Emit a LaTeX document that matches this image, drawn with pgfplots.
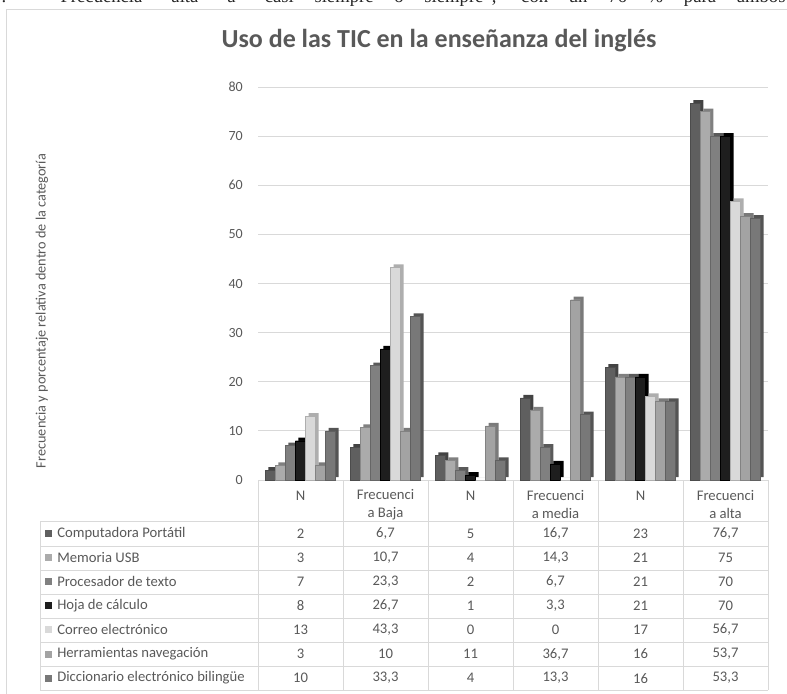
\documentclass[border=0pt]{standalone}
\usepackage{fontspec}
\setmainfont{Carlito}
\newfontfamily\serifaux{Liberation Serif}
\usepackage{pgfplots}
\usepackage{pgfplotstable}
\pgfplotsset{compat=1.18}

\definecolor{txt}{HTML}{595959}
\definecolor{gridc}{HTML}{D9D9D9}
\definecolor{c1}{HTML}{5F5F5F}
\definecolor{c2}{HTML}{ABABAB}
\definecolor{c3}{HTML}{808080}
\definecolor{c4}{HTML}{1E1E1E}
\definecolor{c5}{HTML}{D9D9D9}
\definecolor{c6}{HTML}{A3A3A3}
\definecolor{c7}{HTML}{787878}

\pgfplotstableread{
x   s1   s2   s3   s4   s5   s6   s7
0   2    3    7    8    13   3    10
1   6.7  10.7 23.3 26.7 43.3 10   33.3
2   5    4    2    1    0    11   4
3   16.7 14.3 6.7  3.3  0    36.7 13.3
4   23   21   21   21   17   16   16
5   76.7 75   70   70   56.7 53.7 53.3
}\datatable

\tikzset{tab/.style={font=\fontsize{11}{13.5}\selectfont, text=txt, inner sep=0pt}}
\pgfplotsset{
  depth/.style={draw=none, xshift=2.25pt, yshift=2.25pt, bar shift=#1},
  front/.style={line width=0.3pt, bar shift=#1},
}

\newcommand{\tablerow}[9]{%
  \pgfmathsetmacro{\yy}{159.5-24.1*(#1-1)}
  \fill[#2] (45,\yy-3.5) rectangle (52,\yy+3.5);
  \node[tab, anchor=west] at (57,\yy) {#3};
  \node[tab] at (300.5,\yy) {#4};
  \node[tab] at (385.5,\yy) {#5};
  \node[tab] at (470.5,\yy) {#6};
  \node[tab] at (555.5,\yy) {#7};
  \node[tab] at (640.5,\yy) {#8};
  \node[tab] at (725.5,\yy) {#9};
}

\begin{document}
\begin{tikzpicture}[x=0.75pt,y=0.75pt]
% cropped text line from the page above the chart
\node[anchor=base, inner sep=0pt, font=\serifaux\fontsize{14}{16}\selectfont, text=black!85] at (393.5,690.5)
  {\makebox[588pt][s]{. Frecuencia “alta” a “casi siempre o siempre”, con un 76 \% para ambos}};
% chart frame
\draw[gridc, line width=0.75pt] (6,-20) -- (6,683) -- (820,683);

\begin{axis}[
  at={(193.5pt,159.75pt)}, anchor=south west,
  scale only axis, width=382.5pt, height=294.75pt,
  xmin=-0.5, xmax=5.5, ymin=0, ymax=80,
  ytick={0,10,...,80}, xtick=\empty,
  axis line style={draw=none},
  major tick length=0pt,
  ymajorgrids, grid style={gridc, line width=0.75pt},
  ybar=0pt, bar width=0.118,
  yticklabel style={font=\fontsize{10.5}{12}\selectfont, text=txt, inner sep=0pt, xshift=-11.25pt,
    /pgf/number format/assume math mode=true},
  clip=false,
]
% depth (3D side and top faces): same data drawn shifted on the canvas
\addplot[fill=c1!70!black, depth=-0.354] table[x=x,y=s1]{\datatable};
\addplot[fill=c2!75!black, depth=-0.236] table[x=x,y=s2]{\datatable};
\addplot[fill=c3!70!black, depth=-0.118] table[x=x,y=s3]{\datatable};
\addplot[fill=black,       depth=0]      table[x=x,y=s4]{\datatable};
\addplot[fill=c5!80!black, depth=0.118]  table[x=x,y=s5]{\datatable};
\addplot[fill=c6!75!black, depth=0.236]  table[x=x,y=s6]{\datatable};
\addplot[fill=c7!70!black, depth=0.354]  table[x=x,y=s7]{\datatable};
% front faces
\addplot[fill=c1, draw=c1!80!black, front=-0.354] table[x=x,y=s1]{\datatable};
\addplot[fill=c2, draw=c2!80!black, front=-0.236] table[x=x,y=s2]{\datatable};
\addplot[fill=c3, draw=c3!80!black, front=-0.118] table[x=x,y=s3]{\datatable};
\addplot[fill=c4, draw=black,       front=0]      table[x=x,y=s4]{\datatable};
\addplot[fill=c5, draw=c5!80!black, front=0.118]  table[x=x,y=s5]{\datatable};
\addplot[fill=c6, draw=c6!80!black, front=0.236]  table[x=x,y=s6]{\datatable};
\addplot[fill=c7, draw=c7!80!black, front=0.354]  table[x=x,y=s7]{\datatable};
\end{axis}

% title
\node[font=\bfseries\fontsize{19.5}{22}\selectfont, text=txt] at (439,652) {Uso de las TIC en la enseñanza del inglés};
% y label
\node[rotate=90, font=\fontsize{10.7}{13}\selectfont, text=txt] at (42,382) {Frecuencia y porcentaje relativa dentro de la categoría};

% data table grid
\foreach \yl in {172,147,123,99,75,51,27,3} \draw[gridc, line width=0.75pt] (40,\yl) -- (768,\yl);
\draw[gridc, line width=0.75pt] (40,172) -- (40,3);
\foreach \xl in {258,343,428,513,598,683,768} \draw[gridc, line width=0.75pt] (\xl,213) -- (\xl,3);

% header
\node[tab] at (300.5,197) {N};
\node[tab, align=center] at (385.5,188) {Frecuenci\\a Baja};
\node[tab] at (470.5,197) {N};
\node[tab, align=center] at (555.5,188) {Frecuenci\\a media};
\node[tab] at (640.5,197) {N};
\node[tab, align=center] at (725.5,188) {Frecuenci\\a alta};

\tablerow{1}{c1}{Computadora Portátil}{2}{6,7}{5}{16,7}{23}{76,7}
\tablerow{2}{c2}{Memoria USB}{3}{10,7}{4}{14,3}{21}{75}
\tablerow{3}{c3}{Procesador de texto}{7}{23,3}{2}{6,7}{21}{70}
\tablerow{4}{c4}{Hoja de cálculo}{8}{26,7}{1}{3,3}{21}{70}
\tablerow{5}{c5}{Correo electrónico}{13}{43,3}{0}{0}{17}{56,7}
\tablerow{6}{c6}{Herramientas navegación}{3}{10}{11}{36,7}{16}{53,7}
\tablerow{7}{c7}{Diccionario electrónico bilingüe}{10}{33,3}{4}{13,3}{16}{53,3}

\pgfresetboundingbox
\path (0,0) rectangle (787,693);
\end{tikzpicture}
\end{document}
